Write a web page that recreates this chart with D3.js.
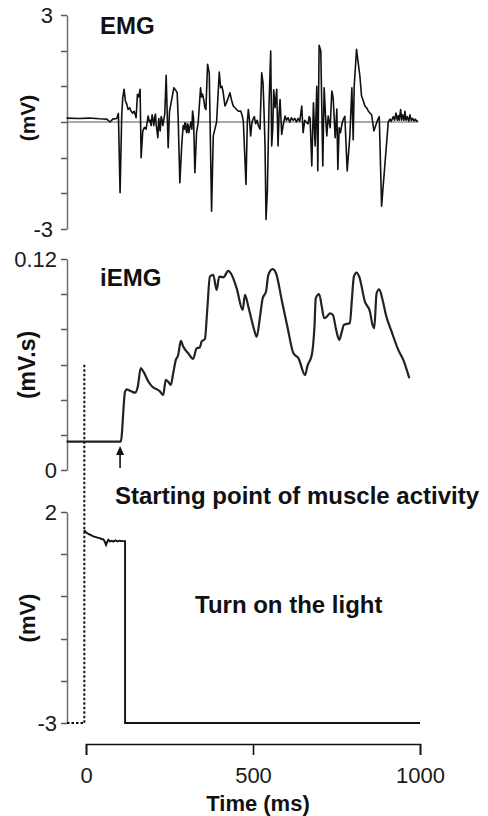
<!DOCTYPE html>
<html lang="en">

<head>
	<meta charset="utf-8">
	<title>EMG / iEMG / light</title>
	<script src="https://d3js.org/d3.v7.js"></script>
	<style>
		body { margin: 0; background: #fff; }
		svg { display: block; font-family: "Liberation Sans", Arial, sans-serif; }
	</style>
</head>

<body>
	<div id="my_dataviz"></div>

	<script>
		// time ticks (ms)
		const timeTicks = [0, 500, 1000];

		// y ticks per panel
		const emgTicks = [-3, -2, -1, 0, 1, 2, 3];
		const iemgTicks = [0, 0.02, 0.04, 0.06, 0.08, 0.1, 0.12];
		const lightTicks = [-3, -2, -1, 0, 1, 2];

		// raw EMG, [time ms, mV]
		const emgTrace = [
			[-58, 0.11], [-20, 0.1], [10, 0.11], [40, 0.09], [62, 0.08], [72, 0.0], [80, 0.08], [92, 0.1],
			[97, 0.24], [102, -1.98], [107, 0.2], [110, 0.68], [114, 0.92], [118, 0.59], [122, 0.5],
			[126, 0.35], [131, 0.4], [135, 0.3], [140, 0.25], [144, 0.3], [147, 0.22], [150, 0.12],
			[154, 0.78], [158, 0.7], [162, 0.92], [165, -1.0], [170, -0.25], [175, -0.15], [180, -0.2],
			[186, 0.17], [190, 0.0], [192, 0.05], [195, -0.1], [198, 0.2], [201, 0.05], [203, -0.1],
			[206, 0.15], [208, 0.22], [210, -0.05], [212, -0.2], [215, -0.44], [218, 0.1], [220, -0.1],
			[222, -0.25], [225, 0.15], [227, 0.1], [230, -0.1], [232, 0.0], [236, 0.25], [240, 1.31],
			[246, -0.72], [250, 0.3], [256, 0.6], [263, 0.96], [268, 0.9], [273, 0.82], [276, 0.1],
			[281, -1.7], [287, -0.58], [291, -0.1], [294, -0.2], [296, -0.02], [298, -0.05], [300, -0.25],
			[302, -0.3], [304, -0.05], [306, -0.1], [308, -0.3], [310, -0.2], [314, 0.0], [317, -0.2],
			[319, 0.31], [322, 0.1], [326, -1.42], [331, -0.3], [336, 0.0], [343, 0.96], [346, 0.7],
			[349, 0.78], [353, 0.6], [356, 0.4], [359, 0.35], [364, 1.62], [369, 1.38], [376, -2.5],
			[381, -0.39], [386, -0.2], [391, 0.0], [399, 1.4], [403, 0.96], [407, 1.0], [410, 0.87],
			[416, 0.45], [421, 0.55], [426, 0.68], [431, 0.82], [436, 0.6], [441, 0.45], [446, 0.4],
			[451, 0.35], [457, 0.3], [463, 0.31], [467, 0.2], [471, 0.03], [479, -1.75], [483, 0.0],
			[486, 0.35], [489, 0.1], [493, -0.39], [497, 0.0], [500, 0.08], [504, 0.15], [508, -0.05],
			[512, 0.05], [516, -0.1], [521, -0.2], [526, 1.38], [530, 1.1], [533, 0.3], [536, -0.67],
			[539, -2.73], [543, -1.93], [548, 0.5], [553, 1.99], [556, -0.67], [559, -0.2], [562, 0.9],
			[566, 0.4], [571, 0.92], [575, -0.67], [578, 0.2], [581, 0.63], [586, -0.35], [590, -0.1],
			[596, 0.17], [600, 0.05], [605, 0.12], [610, 0.0], [615, 0.12], [620, 0.05], [625, 0.1],
			[630, 0.0], [635, 0.1], [640, 0.02], [646, 0.45], [650, -0.3], [655, 0.05], [659, 0.0],
			[665, -0.05], [668, 0.15], [671, 0.1], [676, -1.23], [681, 0.54], [686, -0.67], [691, 1.0],
			[694, -1.37], [698, 2.15], [703, 1.99], [709, -1.23], [713, 0.96], [717, 0.2], [721, -0.39],
			[725, 0.17], [731, -0.16], [736, 0.87], [740, 0.68], [746, -0.44], [751, 0.36], [754, -1.33],
			[758, -0.16], [762, -0.3], [766, -0.07], [770, 0.07], [775, 0.16], [782, -1.37], [790, -0.39],
			[796, 0.96], [800, -0.5], [803, 1.0], [810, 2.04], [815, 1.66], [820, 1.29], [825, 0.73],
			[830, 0.6], [835, 0.45], [840, 0.4], [845, 0.31], [850, 0.25], [855, 0.21], [862, -0.25],
			[872, 0.03], [878, 0.15], [885, -2.36], [905, 0.0], [910, 0.08], [914, 0.02], [920, 0.15],
			[924, 0.05], [928, 0.25], [932, 0.05], [935, 0.18], [938, 0.05], [942, 0.35], [945, 0.05],
			[948, 0.2], [952, 0.05], [955, 0.3], [958, 0.05], [962, 0.15], [966, 0.02], [970, 0.2],
			[974, 0.04], [978, 0.1], [982, 0.03], [986, 0.08], [990, 0.02], [994, 0.03]
		];

		// integrated EMG, [time ms, mV.s]
		const iemgTrace = [
			[-58, 0.0161], [104, 0.0161], [117, 0.0446], [122, 0.0459], [130, 0.0452], [137, 0.0446],
			[147, 0.044], [155, 0.0474], [164, 0.0579], [172, 0.0559], [187, 0.0502], [202, 0.0468],
			[212, 0.0459], [222, 0.0446], [231, 0.0427], [239, 0.0512], [246, 0.0502], [254, 0.0484],
			[261, 0.055], [269, 0.0626], [276, 0.0654], [284, 0.0734], [291, 0.0702], [306, 0.0664],
			[321, 0.0632], [331, 0.0692], [341, 0.0698], [346, 0.073], [356, 0.0745], [363, 0.091],
			[371, 0.11], [381, 0.111], [391, 0.1024], [399, 0.11], [411, 0.1096], [426, 0.1132],
			[436, 0.111], [451, 0.1034], [469, 0.091], [476, 0.0996], [486, 0.0929], [501, 0.0815],
			[511, 0.0758], [521, 0.0872], [529, 0.0977], [539, 0.1015], [546, 0.111], [559, 0.1142],
			[569, 0.1119], [586, 0.0967], [603, 0.0815], [621, 0.0664], [636, 0.0636], [656, 0.054],
			[663, 0.0592], [676, 0.0654], [684, 0.0815], [688, 0.0977], [698, 0.1001], [706, 0.0929],
			[713, 0.0863], [721, 0.0872], [731, 0.0891], [739, 0.0882], [749, 0.0797], [758, 0.074],
			[766, 0.0787], [772, 0.0825], [781, 0.0831], [790, 0.0835], [796, 0.0967], [802, 0.11],
			[810, 0.1123], [818, 0.11], [835, 0.0958], [850, 0.0901], [858, 0.0825], [863, 0.0806],
			[870, 0.1005], [878, 0.1028], [888, 0.0967], [898, 0.0882], [915, 0.0787], [935, 0.0683],
			[950, 0.0626], [968, 0.0522]
		];

		// light sensor, [time ms, mV]
		const lightTrace = [
			[-6, 1.57], [0, 1.52], [7, 1.48], [15, 1.45], [22, 1.42], [32, 1.4], [40, 1.38], [47, 1.36],
			[52, 1.35], [56, 1.3], [60, 1.22], [64, 1.3], [67, 1.34], [72, 1.3], [77, 1.32], [82, 1.3],
			[88, 1.33], [94, 1.3], [100, 1.32], [108, 1.31], [117, 1.31], [117, -3], [1000, -3]
		];

		const svg = d3.select("#my_dataviz")
			.append("svg")
			.attr("width", 488)
			.attr("height", 816);

		const axisX = 67;
		const x = d3.scaleLinear().domain([0, 1000]).range([86, 420]);

		// three stacked panels
		const yEmg = d3.scaleLinear().domain([-3, 3]).range([229, 15]);
		const yIemg = d3.scaleLinear().domain([0, 0.12]).range([470, 259]);
		const yLight = d3.scaleLinear().domain([-3, 2]).range([723, 512]);

		function yAxis(scale, ticks, labels, labelX) {
			const g = svg.append("g")
				.attr("transform", `translate(${axisX},0)`)
				.call(d3.axisLeft(scale).tickValues(ticks).tickSize(0).tickSizeOuter(0)
					.tickFormat(d => labels.has(d) ? labels.get(d) : ""));
			g.select(".domain").attr("stroke", "#6e6e6e").attr("stroke-width", 1.5);
			g.selectAll(".tick text")
				.attr("x", labelX - axisX)
				.attr("dy", "0.36em")
				.style("font-size", "22px")
				.attr("fill", "#1a1a1a");
			// tick marks as plain svg lines
			svg.append("g").selectAll("line")
				.data(ticks)
				.enter().append("line")
				.attr("x1", axisX - 6).attr("x2", axisX)
				.attr("y1", d => Math.round(scale(d)) + 0.5)
				.attr("y2", d => Math.round(scale(d)) + 0.5)
				.style("stroke", "#5a5a5a")
				.style("stroke-width", "1.5px");
			return g;
		}

		yAxis(yEmg, emgTicks, new Map([[3, "3"], [-3, "-3"]]), 53);
		yAxis(yIemg, iemgTicks, new Map([[0.12, "0.12"], [0, "0"]]), 57);
		yAxis(yLight, lightTicks, new Map([[2, "2"], [-3, "-3"]]), 57);

		// zero line of EMG
		svg.append("line")
			.attr("x1", axisX).attr("x2", x(995))
			.attr("y1", yEmg(0)).attr("y2", yEmg(0))
			.attr("stroke", "#555").attr("stroke-width", 1.2);

		const line = (ys) => d3.line().x(d => x(d[0])).y(d => ys(d[1]));

		svg.append("path").datum(emgTrace)
			.attr("d", line(yEmg))
			.attr("fill", "none").attr("stroke", "#111").attr("stroke-width", 1.6)
			.attr("stroke-linejoin", "round");

		svg.append("path").datum(iemgTrace)
			.attr("d", d3.line().x(d => x(d[0])).y(d => yIemg(d[1])).curve(d3.curveMonotoneX))
			.attr("fill", "none").attr("stroke", "#222").attr("stroke-width", 2.2)
			.attr("stroke-linejoin", "round");

		svg.append("path").datum(lightTrace)
			.attr("d", line(yLight))
			.attr("fill", "none").attr("stroke", "#111").attr("stroke-width", 1.9);

		// light onset, dotted
		svg.append("line")
			.attr("x1", x(-5)).attr("x2", x(-5))
			.attr("y1", yIemg(0.0598)).attr("y2", yLight(-3))
			.attr("stroke", "#111").attr("stroke-width", 2).attr("stroke-dasharray", "2.5,2");
		svg.append("line")
			.attr("x1", axisX).attr("x2", x(-5))
			.attr("y1", yLight(-3)).attr("y2", yLight(-3))
			.attr("stroke", "#111").attr("stroke-width", 2).attr("stroke-dasharray", "2.5,2");

		// arrow at muscle onset
		svg.append("line")
			.attr("x1", x(102)).attr("x2", x(102))
			.attr("y1", 468).attr("y2", 452)
			.attr("stroke", "#111").attr("stroke-width", 1.6);
		svg.append("path")
			.attr("d", `M${x(102) - 4},${455}L${x(102)},${446}L${x(102) + 4},${455}Z`)
			.attr("fill", "#111");

		// time axis
		const gx = svg.append("g")
			.attr("transform", "translate(0,744)")
			.call(d3.axisBottom(x).tickValues(timeTicks).tickSize(11).tickSizeOuter(11)
				.tickFormat(d3.format("d")));
		gx.select(".domain").attr("stroke", "#111").attr("stroke-width", 1.6);
		gx.selectAll(".tick line").attr("stroke", "#111").attr("stroke-width", 1.6);
		gx.selectAll(".tick text")
			.attr("y", 39).attr("dy", null)
			.style("font-size", "22px").attr("fill", "#1a1a1a");

		// labels
		const bold = (t, xx, yy, size, anchor) => svg.append("text")
			.attr("x", xx).attr("y", yy)
			.attr("text-anchor", anchor || "start")
			.style("font-size", size + "px").style("font-weight", "bold")
			.attr("fill", "#111").text(t);

		bold("EMG", 100, 34, 24);
		bold("iEMG", 100, 286, 24);
		bold("Starting point of muscle activity", 115, 504, 24);
		bold("Turn on the light", 195, 613, 24);
		bold("Time (ms)", 258, 811, 22, "middle");

		const yTitle = (t, cy, size) => svg.append("text")
			.attr("transform", `translate(27,${cy}) rotate(-90)`)
			.attr("dy", "0.36em")
			.attr("text-anchor", "middle")
			.style("font-size", size + "px").style("font-weight", "bold")
			.attr("fill", "#111").text(t);

		yTitle("(mV)", 118, 21);
		yTitle("(mV.s)", 365, 23);
		yTitle("(mV)", 618, 22);
	</script>

</body>

</html>
